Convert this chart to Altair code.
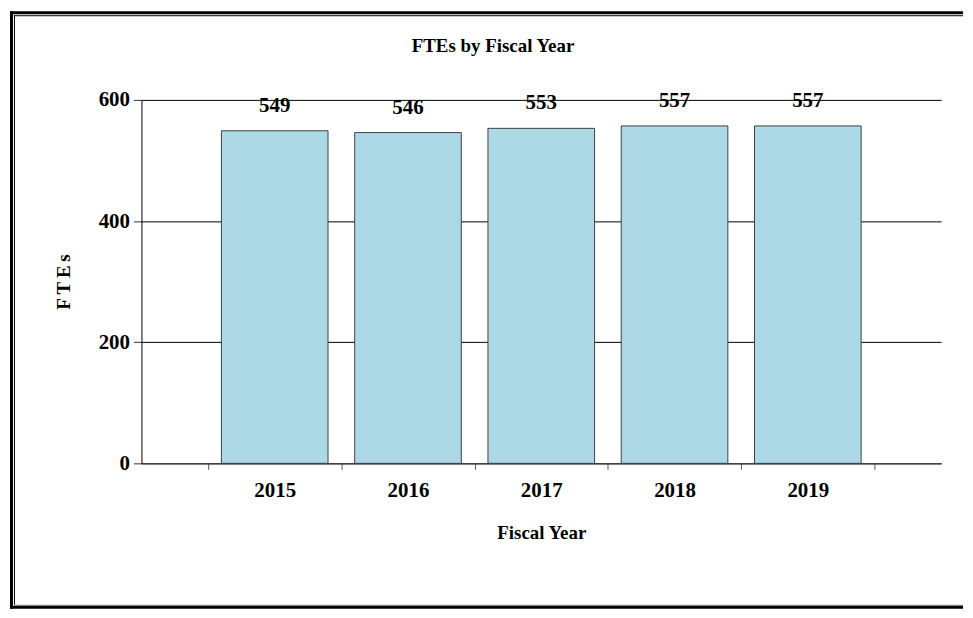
import altair as alt
import pandas as pd

years = ["2015", "2016", "2017", "2018", "2019"]
ftes = [549, 546, 553, 557, 557]
y_ticks = [0, 200, 400, 600]
chart_title = "FTEs by Fiscal Year"
x_title = "Fiscal Year"
y_title = "F\u2009T\u2009E\u2009s"

df = pd.DataFrame({"year": years, "fte": ftes})
one = pd.DataFrame({"k": [0]})

FONT = "Liberation Serif"
W, H = 803, 365

xenc = alt.X(
    "year:N",
    sort=years,
    scale=alt.Scale(paddingInner=0, paddingOuter=0.5),
    axis=alt.Axis(
        title=x_title,
        labelAngle=0,
        tickBand="extent",
        tickSize=6,
        tickColor="#555555",
        domainColor="#333333",
        labelPadding=10,
        titlePadding=23,
        grid=False,
    ),
)
yenc = alt.Y(
    "fte:Q",
    scale=alt.Scale(domain=[0, 600], nice=False),
    axis=alt.Axis(
        title=y_title,
        values=y_ticks,
        tickSize=8,
        tickColor="#333333",
        domainColor="#000000",
        gridColor="#000000",
        gridOpacity=1,
        labelPadding=4,
        titlePadding=25,
    ),
)

bars = alt.Chart(df).mark_bar(
    color="#ADD8E6", stroke="#404040", strokeWidth=1, width=alt.RelativeBandSize(0.8)
).encode(x=xenc, y=yenc)

labels = alt.Chart(df).mark_text(
    font=FONT, fontSize=21, fontWeight="bold", baseline="middle", dy=-25, color="black"
).encode(x=alt.X("year:N", sort=years), y="fte:Q", text="fte:Q")

title = alt.Chart(one).mark_text(
    font=FONT, fontSize=19, fontWeight="bold", baseline="middle", align="center", color="black"
).encode(x=alt.value(353), y=alt.value(-54), text=alt.value(chart_title))

# decorative double frame (left, top, bottom)
L, T, R, B = -132, -89, 825, 511
frame = []
frame.append(alt.Chart(one).mark_rule(color="black", strokeWidth=3).encode(
    x=alt.value(L + 1.5), y=alt.value(T), y2=alt.value(B)))
frame.append(alt.Chart(one).mark_rule(color="black", strokeWidth=3).encode(
    x=alt.value(L), x2=alt.value(R), y=alt.value(T + 1.5)))
frame.append(alt.Chart(one).mark_rule(color="black", strokeWidth=3).encode(
    x=alt.value(L), x2=alt.value(R), y=alt.value(B - 1.5)))
frame.append(alt.Chart(one).mark_rule(color="black", strokeWidth=1).encode(
    x=alt.value(L + 4.5), y=alt.value(T + 4), y2=alt.value(B - 4)))
frame.append(alt.Chart(one).mark_rule(color="black", strokeWidth=1).encode(
    x=alt.value(L + 4), x2=alt.value(R), y=alt.value(T + 4.5)))
frame.append(alt.Chart(one).mark_rule(color="#777777", strokeWidth=1).encode(
    x=alt.value(L + 4), x2=alt.value(R), y=alt.value(B - 3.5)))

chart = alt.layer(bars, labels, title, *frame).properties(
    width=W, height=H, padding=0, background="white"
).configure_view(stroke=None).configure_axis(
    labelFont=FONT, labelFontSize=21, labelFontWeight="bold", labelColor="black",
    titleFont=FONT, titleFontSize=19, titleFontWeight="bold", titleColor="black",
)

chart.save("out.html", embed_options={"renderer": "svg", "actions": False})
